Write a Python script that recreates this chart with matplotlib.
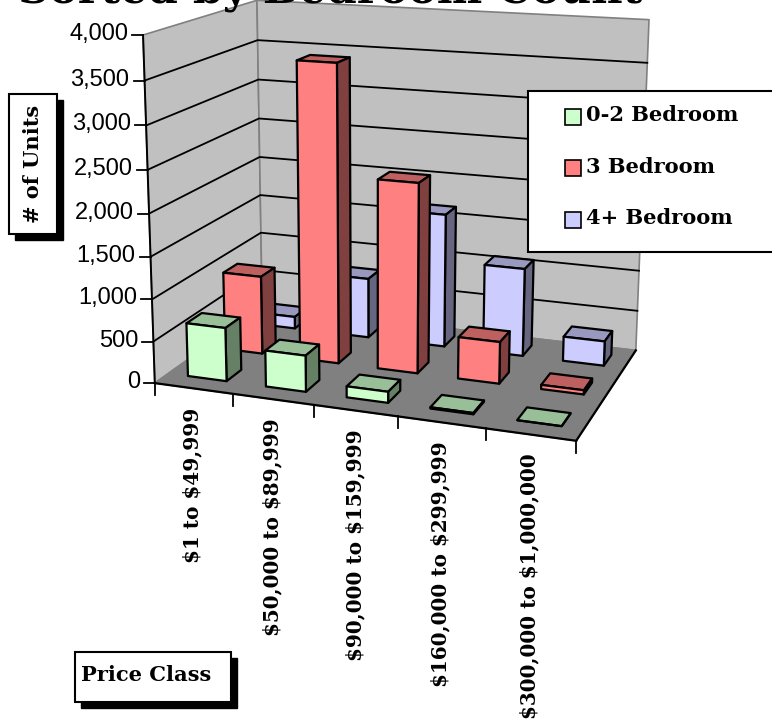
import numpy as np
import matplotlib
matplotlib.use("Agg")
import matplotlib.pyplot as plt
from matplotlib.patches import Polygon, Rectangle

categories = ["$1 to $49,999", "$50,000 to $89,999", "$90,000 to $159,999",
              "$160,000 to $299,999", "$300,000 to $1,000,000"]
series_names = ["0-2 Bedroom", "3 Bedroom", "4+ Bedroom"]
beds_0_2 = [640, 430, 130, 15, 0]
beds_3 = [960, 3580, 2270, 500, 50]
beds_4 = [150, 750, 1650, 1080, 300]
y_ticks = [0, 500, 1000, 1500, 2000, 2500, 3000, 3500, 4000]

face_colors = ["#CCFFCC", "#FF8080", "#CCCCFF"]
top_colors = ["#99BF99", "#BF6060", "#9999BF"]
side_colors = ["#668066", "#804040", "#666680"]

WALL = "#C0C0C0"
FLOOR = "#808080"
SERIF = ["DejaVu Serif"]
BAR_W = 0.5
BAR_D = 0.4

# picture corners of the chart box, (category, series, value) -> pixel
calib = [((0, 0, 0), (155, 382)), ((5, 0, 0), (576, 442)), ((5, 3, 0), (636, 349)),
         ((0, 3, 0), (262, 308)), ((0, 0, 4000), (143, 35)), ((0, 3, 4000), (257, 0)),
         ((5, 3, 4000), (649, 20))]


def fit_projection(pairs):
    rows = []
    for (u, v, w), (x, y) in pairs:
        w = w / 4000
        rows.append([u, v, w, 1, 0, 0, 0, 0, -x * u, -x * v, -x * w, -x])
        rows.append([0, 0, 0, 0, u, v, w, 1, -y * u, -y * v, -y * w, -y])
    return np.linalg.svd(np.array(rows, dtype=float))[2][-1].reshape(3, 4)


P = fit_projection(calib)


def proj(u, v, w):
    x, y, s = P @ np.array([u, v, w / 4000, 1.0])
    return x / s, y / s


def quad(ax, pts, fc, ec="black", lw=1.6, z=2):
    ax.add_patch(Polygon([proj(*p) for p in pts], closed=True, fc=fc, ec=ec, lw=lw,
                         joinstyle="round", zorder=z))


def draw_bar(ax, cat, row, val, idx):
    u0 = cat + 0.255
    u1 = u0 + BAR_W
    v0 = row + 0.34
    v1 = v0 + BAR_D
    quad(ax, [(u0, v0, val), (u1, v0, val), (u1, v1, val), (u0, v1, val)], top_colors[idx])
    quad(ax, [(u1, v0, 0), (u1, v1, 0), (u1, v1, val), (u1, v0, val)], side_colors[idx])
    quad(ax, [(u0, v0, 0), (u1, v0, 0), (u1, v0, val), (u0, v0, val)], face_colors[idx])


def boxed_label(ax, x0, y0, x1, y1, off=5.5):
    ax.add_patch(Rectangle((x0 + off, y0 + off), x1 - x0, y1 - y0, fc="black", ec="black", lw=1, zorder=5))
    ax.add_patch(Rectangle((x0, y0), x1 - x0, y1 - y0, fc="white", ec="black", lw=1.5, zorder=6))


fig = plt.figure(figsize=(7.72, 7.25), dpi=100)
ax = fig.add_axes([0, 0, 1, 1])
ax.set_xlim(0, 772)
ax.set_ylim(725, 0)
ax.axis("off")

# walls and floor
quad(ax, [(0, 0, 0), (0, 3, 0), (0, 3, 4000), (0, 0, 4000)], WALL, ec="#808080", lw=1.2, z=1)
quad(ax, [(0, 3, 0), (5, 3, 0), (5, 3, 4000), (0, 3, 4000)], WALL, ec="#808080", lw=1.2, z=1)
quad(ax, [(0, 0, 0), (5, 0, 0), (5, 3, 0), (0, 3, 0)], FLOOR, ec="#808080", lw=1.2, z=1)

# gridlines and value axis
for t in y_ticks[1:-1]:
    ax.plot(*zip(proj(0, 0, t), proj(0, 3, t), proj(5, 3, t)), color="black", lw=1.3, zorder=1.5)
for t in y_ticks:
    x, y = proj(0, 0, t)
    ax.plot([x - 11, x], [y, y], color="black", lw=1.3, zorder=3)
    ax.text(x - 15, y - 1, f"{t:,}", ha="right", va="center", fontsize=17,
            family=["Liberation Sans", "DejaVu Sans"], color="black", zorder=3)
ax.plot(*zip(proj(0, 0, 0), proj(0, 0, 4000)), color="black", lw=1.4, zorder=3)
ax.plot(*zip(proj(0, 0, 0), proj(5, 0, 0)), color="black", lw=1.6, zorder=3)
ax.plot(*zip(proj(5, 0, 0), proj(5, 3, 0)), color="black", lw=1.6, zorder=3)

# category ticks and labels
for i in range(len(categories) + 1):
    x, y = proj(i, 0, 0)
    ax.plot([x, x], [y, y + 12], color="black", lw=1.3, zorder=3)
for i, name in enumerate(categories):
    x, y = proj(i + 0.5, 0, 0)
    ax.text(x - 1, y + 19, name, rotation=90, ha="center", va="top", fontsize=14.4,
            fontweight="bold", family=SERIF, zorder=3, parse_math=False)

# back row first so the front ones cover it
for row, vals in reversed(list(enumerate([beds_0_2, beds_3, beds_4]))):
    for cat, val in enumerate(vals):
        draw_bar(ax, cat, row, val, row)

# title is cut off by the top of the picture
ax.text(18, 2.5, "Sorted by Bedroom Count", ha="left", va="baseline", fontsize=31,
        fontweight="bold", family=SERIF, zorder=4)

# axis titles
boxed_label(ax, 9, 94, 57, 234)
ax.text(33, 164, "# of Units", rotation=90, ha="center", va="center", fontsize=15.1,
        fontweight="bold", family=SERIF, zorder=7)
boxed_label(ax, 75, 652, 231, 702)
ax.text(81, 675, "Price Class", ha="left", va="center", fontsize=15.1,
        fontweight="bold", family=SERIF, zorder=7)

# legend runs off the right edge
ax.add_patch(Rectangle((528, 91), 260, 161, fc="white", ec="black", lw=1.5, zorder=6))
for i, name in enumerate(series_names):
    y = 116 + i * 51.5
    ax.add_patch(Rectangle((565, y - 7.5), 16, 16, fc=face_colors[i], ec="black", lw=1.2, zorder=7))
    ax.text(586, y - 1, name, ha="left", va="center", fontsize=15.1, fontweight="bold",
            family=SERIF, zorder=7)

fig.savefig("out.png", dpi=100)
